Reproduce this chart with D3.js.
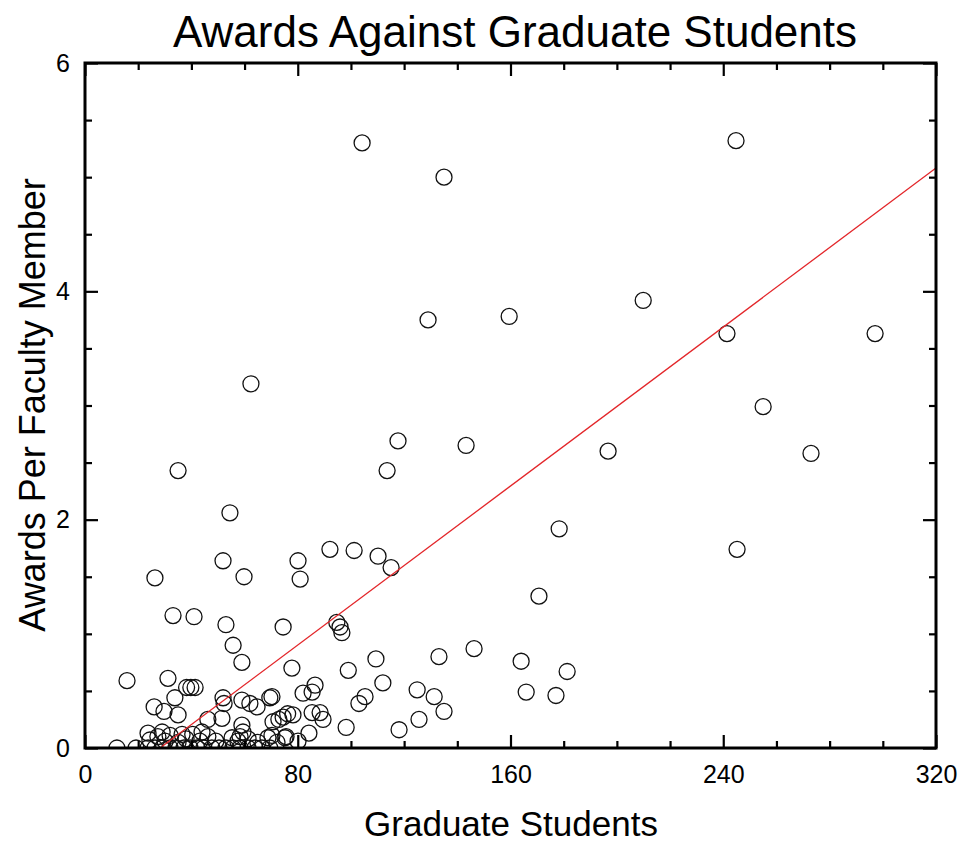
<!DOCTYPE html>
<html>
<head>
<meta charset="utf-8">
<script src="https://cdn.jsdelivr.net/npm/d3@7"></script>
<style>
  body { margin: 0; background: #fff; }
  text { font-family: "Liberation Sans", Arial, sans-serif; fill: #000; }
</style>
</head>
<body>
<div id="chart"></div>
<script>

// Graduate students (x) and awards per faculty member (y)
var gradStudents = [
    104.2, 244.8, 135.0, 209.9, 129.0, 159.5, 241.4, 297.1, 62.4, 255.0,
    35.0, 117.7, 143.3, 113.6, 196.7, 273.0, 54.5, 178.3, 245.2, 92.1,
    101.2, 110.2, 51.9, 80.1, 115.1, 26.3, 59.8, 80.9, 170.7, 33.1,
    41.0, 94.7, 53.0, 74.5, 95.9, 96.6, 55.7, 146.3, 15.8, 59.0,
    133.1, 164.0, 109.4, 77.8, 99.0, 181.3, 31.2, 38.2, 39.8, 41.4,
    86.5, 165.9, 177.1, 124.9, 131.3, 82.0, 85.4, 112.0, 105.3, 103.0,
    70.3, 51.9, 33.8, 26.0, 29.7, 35.0, 135.0, 125.6, 118.1, 98.2,
    46.2, 52.3, 51.5, 59.0, 62.0, 64.7, 69.5, 59.0, 59.4, 58.3,
    70.7, 72.9, 74.5, 76.2, 78.2, 70.3, 75.2, 84.2, 88.4, 89.5,
    85.4, 72.2, 23.7, 29.0, 32.0,
    12.0, 19.2, 23.7, 26.3, 29.0, 32.0, 34.2, 37.2, 39.5, 42.1,
    44.7, 47.7, 50.4, 53.0, 55.6, 58.3, 61.3, 63.9, 66.5, 69.5,
    24.4, 27.4, 30.1, 35.0, 38.0, 43.2, 46.2, 49.2, 55.3, 57.5,
    61.3, 65.0, 68.8, 75.6, 80.1, 40.5, 44.0, 36.5
];

var awardsPerFaculty = [
    5.30, 5.32, 5.00, 3.92, 3.75, 3.78, 3.63, 3.63, 3.19, 2.99,
    2.43, 2.69, 2.65, 2.43, 2.60, 2.58, 2.06, 1.92, 1.74, 1.74,
    1.73, 1.68, 1.64, 1.64, 1.58, 1.49, 1.50, 1.48, 1.33, 1.16,
    1.15, 1.10, 1.08, 1.06, 1.06, 1.01, 0.90, 0.87, 0.59, 0.75,
    0.80, 0.76, 0.78, 0.70, 0.68, 0.67, 0.61, 0.53, 0.53, 0.53,
    0.55, 0.49, 0.46, 0.51, 0.45, 0.48, 0.49, 0.57, 0.45, 0.39,
    0.45, 0.44, 0.44, 0.36, 0.32, 0.29, 0.32, 0.25, 0.16, 0.18,
    0.25, 0.39, 0.26, 0.42, 0.39, 0.36, 0.44, 0.20, 0.14, 0.10,
    0.23, 0.25, 0.27, 0.30, 0.29, 0.11, 0.09, 0.13, 0.31, 0.25,
    0.31, 0.05, 0.13, 0.14, 0.11,
    0.00, 0.00, 0.00, 0.00, 0.00, 0.00, 0.00, 0.00, 0.00, 0.00,
    0.00, 0.00, 0.00, 0.00, 0.00, 0.00, 0.00, 0.00, 0.00, 0.00,
    0.07, 0.10, 0.06, 0.05, 0.08, 0.06, 0.10, 0.06, 0.09, 0.06,
    0.08, 0.05, 0.09, 0.10, 0.06, 0.12, 0.14, 0.12
];

// Fitted line, as drawn: crosses zero near x = 28.2, reaches ~5.08 at x = 320
var fitIntercept = -0.491;
var fitSlope = 0.01741;

var xMajorTicks = [0, 80, 160, 240, 320];
var xMinorTicks = [20, 40, 60, 100, 120, 140, 180, 200, 220, 260, 280, 300];
var yMajorTicks = [0, 2, 4, 6];
var yMinorTicks = [0.5, 1, 1.5, 2.5, 3, 3.5, 4.5, 5, 5.5];

var data = gradStudents.map(function(d, i) {
    return { students: d, awards: awardsPerFaculty[i] };
});

var margin = { top: 63, right: 27, bottom: 96, left: 85 };
var width = 963 - margin.left - margin.right,
    height = 844 - margin.top - margin.bottom;

var svgRoot = d3.select("#chart").append("svg")
    .attr("width", 963)
    .attr("height", 844);

var svg = svgRoot.append("g")
    .attr("transform", "translate(" + margin.left + "," + margin.top + ")");

svg.append("defs").append("clipPath")
    .attr("id", "clip")
    .append("rect")
    .attr("width", width)
    .attr("height", height);

// Scales
var x = d3.scaleLinear().domain([0, 320]).range([0, width]);
var y = d3.scaleLinear().domain([0, 6]).range([height, 0]);

// Points
svg.append("g")
    .attr("clip-path", "url(#clip)")
    .selectAll("circle")
    .data(data)
    .enter().append("circle")
    .attr("cx", function(d) { return x(d.students); })
    .attr("cy", function(d) { return y(d.awards); })
    .attr("r", 8)
    .attr("fill", "none")
    .attr("stroke", "#111")
    .attr("stroke-width", 1.3);

// Fit line
var fitLine = d3.line()
    .x(function(d) { return x(d); })
    .y(function(d) { return y(fitIntercept + fitSlope * d); });

svg.append("path")
    .attr("clip-path", "url(#clip)")
    .datum([0, 320])
    .attr("d", fitLine)
    .attr("fill", "none")
    .attr("stroke", "#e3262a")
    .attr("stroke-width", 1.3);

// Axes: ticks pointing inward on all four sides
var majorLen = 13, minorLen = 7;

function styleAxis(g) {
    g.select(".domain").remove();
    g.selectAll(".tick line").attr("stroke", "#000").attr("stroke-width", 2.2);
}

function drawTicks(axisFn, scale, values, len, transform, labels) {
    var ax = axisFn(scale).tickValues(values).tickSizeInner(-len).tickSizeOuter(0);
    ax.tickFormat(labels ? d3.format("d") : "");
    var g = svg.append("g").attr("transform", transform).call(ax).call(styleAxis);
    return g;
}

var xb = drawTicks(d3.axisBottom, x, xMajorTicks, majorLen, "translate(0," + height + ")", true);
xb.selectAll(".tick text").attr("y", 17).attr("dy", "0.71em").style("font-size", "25px");
drawTicks(d3.axisBottom, x, xMinorTicks, minorLen, "translate(0," + height + ")", false);
drawTicks(d3.axisTop, x, xMajorTicks, majorLen, "translate(0,0)", false);
drawTicks(d3.axisTop, x, xMinorTicks, minorLen, "translate(0,0)", false);

var yl = drawTicks(d3.axisLeft, y, yMajorTicks, majorLen, "translate(0,0)", true);
yl.selectAll(".tick text").attr("x", -15).style("font-size", "25px");
drawTicks(d3.axisLeft, y, yMinorTicks, minorLen, "translate(0,0)", false);
drawTicks(d3.axisRight, y, yMajorTicks, majorLen, "translate(" + width + ",0)", false);
drawTicks(d3.axisRight, y, yMinorTicks, minorLen, "translate(" + width + ",0)", false);

svg.selectAll(".tick text").style("font-family", "'Liberation Sans', Arial, sans-serif").attr("fill", "#000");

// Frame
svg.append("rect")
    .attr("width", width)
    .attr("height", height)
    .attr("fill", "none")
    .attr("stroke", "#000")
    .attr("stroke-width", 3);

// Title and axis labels
svgRoot.append("text")
    .attr("x", 515)
    .attr("y", 47)
    .style("text-anchor", "middle")
    .style("font-size", "44px")
    .text("Awards Against Graduate Students");

svgRoot.append("text")
    .attr("x", 511)
    .attr("y", 836)
    .style("text-anchor", "middle")
    .style("font-size", "35px")
    .text("Graduate Students");

svgRoot.append("text")
    .attr("transform", "translate(45,405) rotate(-90)")
    .style("text-anchor", "middle")
    .style("font-size", "36px")
    .text("Awards Per Faculty Member");

</script>
</body>
</html>
